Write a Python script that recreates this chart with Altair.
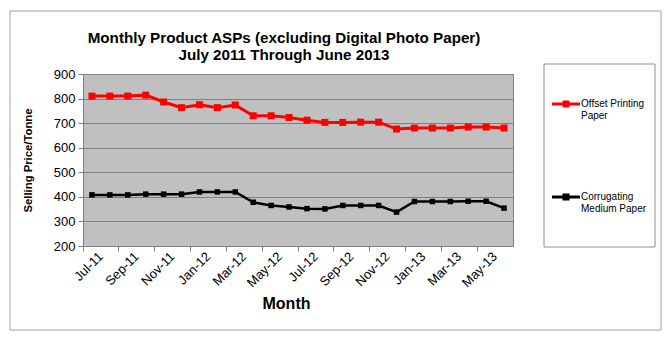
import altair as alt
import pandas as pd

months = ["Jul-11", "Aug-11", "Sep-11", "Oct-11", "Nov-11", "Dec-11",
          "Jan-12", "Feb-12", "Mar-12", "Apr-12", "May-12", "Jun-12",
          "Jul-12", "Aug-12", "Sep-12", "Oct-12", "Nov-12", "Dec-12",
          "Jan-13", "Feb-13", "Mar-13", "Apr-13", "May-13", "Jun-13"]
offset_printing = [810, 810, 810, 814, 786, 763, 775, 763, 774, 730, 730, 723,
                   712, 703, 703, 704, 704, 676, 680, 680, 680, 684, 684, 680]
corrugating = [408, 408, 408, 411, 411, 411, 420, 420, 420, 378, 365, 359,
               352, 351, 365, 365, 365, 338, 381, 381, 381, 382, 382, 354]
series_names = ["Offset Printing Paper", "Corrugating Medium Paper"]
series_colors = ["#FF0000", "#000000"]
tick_months = months[0::2]
y_ticks = [200, 300, 400, 500, 600, 700, 800, 900]

df = pd.DataFrame({
    "Month": months * 2,
    "Price": offset_printing + corrugating,
    "Series": [series_names[0]] * len(months) + [series_names[1]] * len(months),
})

FONT = "Liberation Sans"
W, H = 430, 172

x_enc = alt.X(
    "Month:O", sort=months,
    scale=alt.Scale(type="band", paddingInner=0, paddingOuter=0),
    axis=alt.Axis(
        values=tick_months, bandPosition=0, labelOffset=9,
        labelAngle=-45, labelAlign="right", labelBaseline="middle",
        labelFontSize=13, labelColor="#000", labelPadding=3, labelOverlap=False,
        tickSize=5, tickColor="#808080", domainColor="#808080",
        title="Month", titleFontSize=16, titleFontWeight="bold",
        titleX=203, titleY=57, titleBaseline="middle", titleAnchor="start",
        titleAlign="center", grid=False,
    ),
)
y_enc = alt.Y(
    "Price:Q",
    scale=alt.Scale(domain=[200, 900], nice=False, zero=False),
    axis=alt.Axis(
        values=y_ticks, labelFontSize=13, labelColor="#000", labelPadding=3,
        labelOverlap=False, labelFlush=False,
        tickSize=5, tickColor="#808080", domainColor="#808080",
        grid=True, gridColor="#808080", gridWidth=1,
        title="Selling Price/Tonne", titleFontSize=11.3, titleFontWeight="bold",
        titleX=-55, titleY=86, titleAngle=-90, titleAlign="center",
        titleBaseline="middle", titleAnchor="start",
    ),
)

lines = alt.Chart(df).mark_line().encode(
    x=x_enc, y=y_enc,
    color=alt.Color("Series:N", scale=alt.Scale(domain=series_names, range=series_colors), legend=None),
    strokeWidth=alt.StrokeWidth("Series:N", scale=alt.Scale(domain=series_names, range=[3, 2.5]), legend=None),
)

sym_path = "M-1,-0.107H1V0.107H-1Z M-0.25,-0.25H0.25V0.25H-0.25Z"
points = alt.Chart(df).mark_point(shape="square", filled=True, opacity=1, strokeWidth=0).encode(
    x=x_enc, y=y_enc,
    fill=alt.Fill("Series:N", scale=alt.Scale(domain=series_names, range=series_colors),
                  legend=alt.Legend(
                      orient="none", legendX=469, legendY=16, title=None,
                      symbolType=sym_path, symbolSize=784, symbolStrokeWidth=0,
                      labelFontSize=10, labelColor="#000", labelOffset=1,
                      labelExpr="datum.label == 'Offset Printing Paper' ? ['Offset Printing', 'Paper'] : ['Corrugating', 'Medium Paper']",
                      rowPadding=62, padding=0,
                  )),
    size=alt.Size("Series:N", scale=alt.Scale(domain=series_names, range=[49, 30]), legend=None),
)

one = pd.DataFrame({"a": [0]})
frame = alt.Chart(one).mark_rect(fill=None, stroke="#A0A0A0", strokeWidth=1).encode(
    x=alt.value(-73), x2=alt.value(578), y=alt.value(-63), y2=alt.value(256))
legend_box = alt.Chart(one).mark_rect(fill="white", stroke="#909090", strokeWidth=1).encode(
    x=alt.value(461), x2=alt.value(572), y=alt.value(-10), y2=alt.value(173))

chart = alt.layer(frame, legend_box, lines, points).properties(
    width=W, height=H,
    title=alt.Title(
        ["Monthly Product ASPs (excluding Digital Photo Paper)", "July 2011 Through June 2013"],
        fontSize=15.2, fontWeight="bold", anchor="middle", frame="group",
        dx=-14, dy=53, offset=0, lineHeight=17, color="#000",
    ),
    autosize=alt.AutoSizeParams(type="none"),
    padding={"left": 83, "top": 74, "right": 157, "bottom": 96},
).resolve_scale(
    color="independent", fill="independent"
).configure(
    font=FONT, background="white",
).configure_view(
    fill="#C0C0C0", stroke="#808080", strokeWidth=1,
)

chart.save("out.html", embed_options={"renderer": "svg", "actions": False})
